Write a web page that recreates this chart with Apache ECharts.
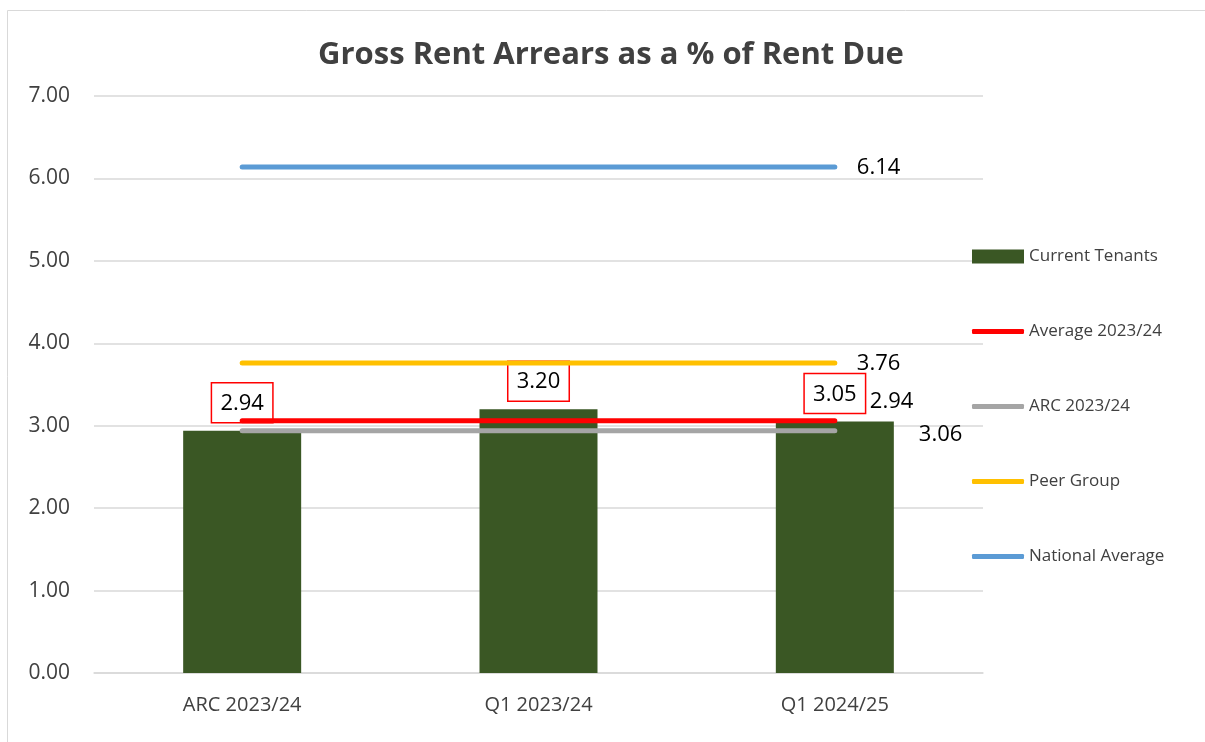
<!DOCTYPE html>
<html>
<head>
<meta charset="utf-8">
<script src="https://cdn.jsdelivr.net/npm/echarts@6/dist/echarts.min.js"></script>
<style>
html, body { margin: 0; padding: 0; background: #fff; }
#chart { width: 1205px; height: 742px; }
</style>
</head>
<body>
<div id="chart"></div>
<script>
// categories and values
var categories = ['ARC 2023/24', 'Q1 2023/24', 'Q1 2024/25']
var currentTenants = [2.94, 3.20, 3.05]
var average2324 = [3.06, 3.06, 3.06]
var arc2324 = [2.94, 2.94, 2.94]
var peerGroup = [3.76, 3.76, 3.76]
var nationalAverage = [6.14, 6.14, 6.14]

var font = '"Open Sans", sans-serif'

function refLine(name, data, color, offset) {
    return {
        name: name,
        type: 'line',
        data: data,
        symbol: 'none',
        z: 3,
        lineStyle: { color: color, width: 5, cap: 'round' },
        itemStyle: { color: color },
        endLabel: {
            show: true,
            formatter: function (p) { return p.value.toFixed(2) },
            color: '#000',
            fontFamily: font,
            fontSize: 22,
            offset: offset
        }
    }
}

var legendText = { fontFamily: font, fontSize: 17, color: '#404040' }

var dom = document.getElementById('chart')
var chart = echarts.init(dom)
var option = {
    animation: false,
    textStyle: { fontFamily: font },
    title: {
        text: 'Gross Rent Arrears as a % of Rent Due',
        left: 606,
        textAlign: 'center',
        top: 35,
        textStyle: { fontFamily: font, fontSize: 31, fontWeight: 'bold', color: '#404040' }
    },
    graphic: [
        { type: 'line', shape: { x1: 7.5, y1: 10.5, x2: 1205, y2: 10.5 }, style: { stroke: '#d9d9d9', lineWidth: 1 } },
        { type: 'line', shape: { x1: 7.5, y1: 10.5, x2: 7.5, y2: 742 }, style: { stroke: '#d9d9d9', lineWidth: 1 } }
    ],
    legend: [
        {
            orient: 'vertical',
            left: 967,
            top: 243,
            itemWidth: 52,
            itemHeight: 14,
            icon: 'rect',
            textStyle: legendText,
            data: ['Current Tenants']
        },
        {
            orient: 'vertical',
            left: 967,
            top: 318,
            itemGap: 58,
            itemWidth: 52,
            itemHeight: 5,
            icon: 'roundRect',
            textStyle: legendText,
            data: ['Average 2023/24', 'ARC 2023/24', 'Peer Group', 'National Average']
        }
    ],
    grid: { left: 94, right: 222, top: 96, bottom: 69 },
    xAxis: {
        type: 'category',
        data: categories,
        axisLine: { lineStyle: { color: '#d9d9d9', width: 1.5 } },
        axisTick: { show: false },
        axisLabel: { color: '#404040', fontSize: 20, margin: 22 }
    },
    yAxis: {
        type: 'value',
        min: 0,
        max: 7,
        interval: 1,
        axisLabel: {
            color: '#404040',
            fontSize: 21,
            margin: 24,
            formatter: function (v) { return v.toFixed(2) }
        },
        splitLine: { lineStyle: { color: '#d9d9d9', width: 1.5 } }
    },
    series: [
        {
            name: 'Current Tenants',
            type: 'bar',
            data: currentTenants,
            barWidth: 118,
            z: 2,
            itemStyle: { color: '#3a5724' },
            label: {
                show: true,
                position: 'top',
                distance: 8,
                formatter: function (p) { return p.value.toFixed(2) },
                color: '#000',
                fontSize: 22,
                borderColor: '#ff0000',
                borderWidth: 1.5,
                padding: [10, 9, 8, 9]
            },
            labelLayout: { hideOverlap: false }
        },
        refLine('Average 2023/24', average2324, '#ff0000', [76, 14]),
        refLine('ARC 2023/24', arc2324, '#a5a5a5', [27, -29]),
        refLine('Peer Group', peerGroup, '#ffc000', [14, 1]),
        refLine('National Average', nationalAverage, '#5b9bd5', [14, 1])
    ]
}
chart.setOption(option)
</script>
</body>
</html>
